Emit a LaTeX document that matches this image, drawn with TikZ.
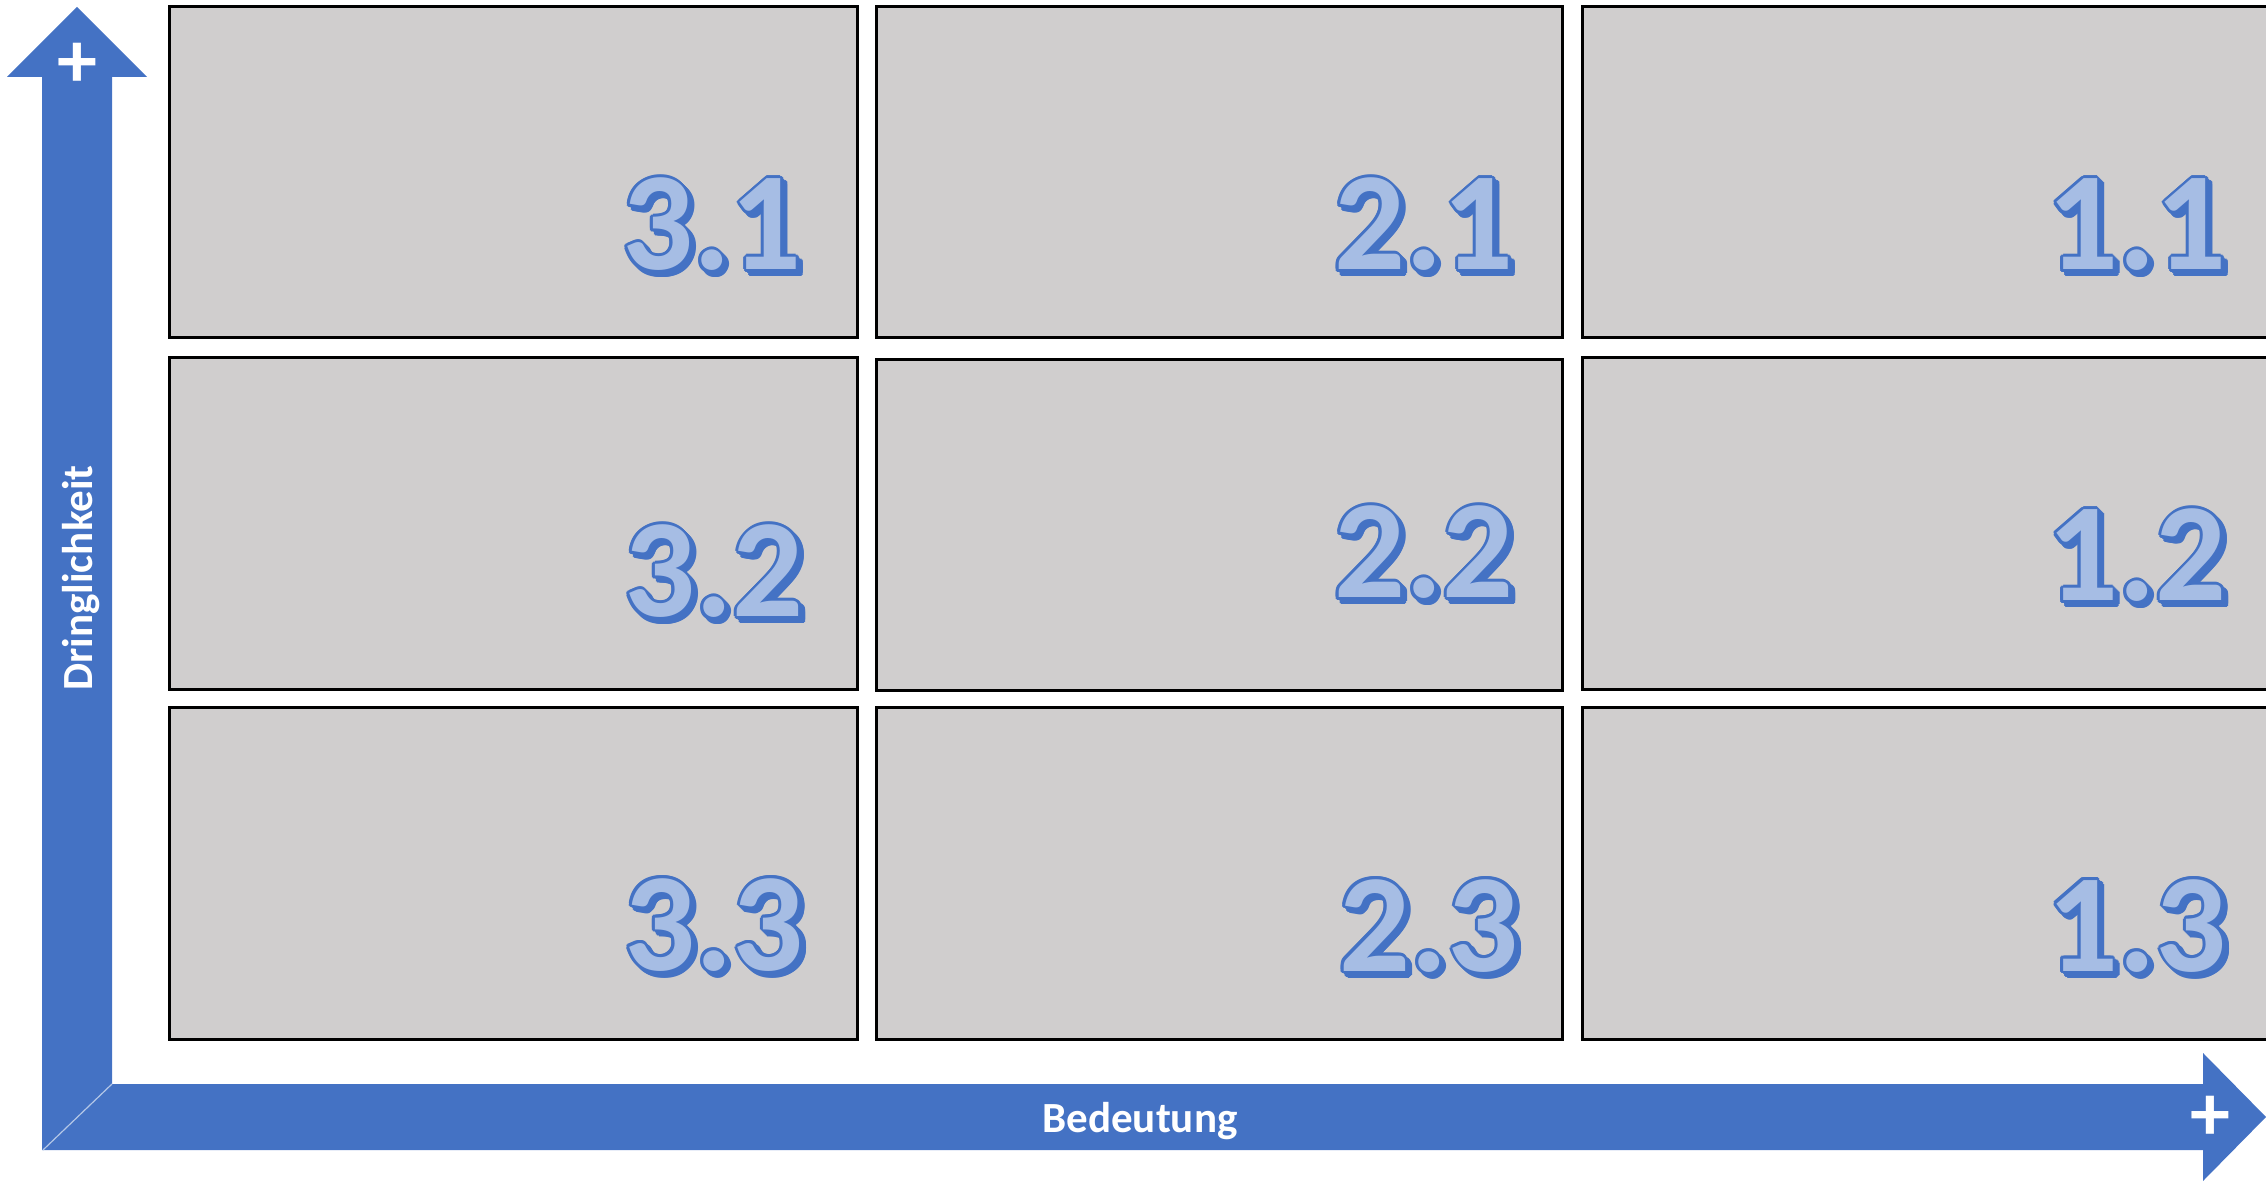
\documentclass[tikz,border=0pt]{standalone}
\usepackage{fontspec}
\setmainfont{Carlito}
\usetikzlibrary{calc}
\definecolor{myblue}{HTML}{4472C4}
\definecolor{boxgray}{HTML}{D0CECE}
\definecolor{numfill}{HTML}{A6BDE4}
\newcommand\numlabel[4]{%
  \foreach \a in {0,30,...,330}{%
    \node[numtxt,text=myblue,shift={(\a:1.5pt)},xshift=2pt,yshift=-2pt] (#1s\a) at (#2,#3) {#4};
    \node[numtxt,text=myblue,shift={(\a:1.5pt)}] (#1o\a) at (#2,#3) {#4};
  }%
  \node[numtxt,text=numfill] (#1) at (#2,#3) {#4};
}
\begin{document}
\begin{tikzpicture}[x=0.5pt,y=-0.5pt,
  cell/.style={draw=black, fill=boxgray, line width=1.5pt, inner sep=0pt, outer sep=0pt},
  numtxt/.style={font=\fontsize{70}{70}\selectfont\bfseries, inner sep=0pt, anchor=base},
  axislabel/.style={font=\fontsize{21.5}{21.5}\selectfont\bfseries, text=white, inner sep=0pt, anchor=base},
  plussign/.style={font=\fontsize{40}{40}\selectfont\bfseries, text=white, inner sep=0pt}]
\useasboundingbox (0,0) rectangle (2266,1181);
% axes arrow (L-shape)
\fill[myblue] (77,7) -- (147,77) -- (112,77) -- (112,1084) -- (2203,1084) -- (2203,1053)
  -- (2266,1117) -- (2203,1181) -- (2203,1150) -- (42,1150) -- (42,77) -- (7,77) -- cycle;
\draw[white!60!myblue, line width=0.6pt] (43,1150) -- (112,1084);
% cells
\node[cell, minimum width=344pt, minimum height=165.5pt] (c31) at (513,172.5) {};
\node[cell, minimum width=343pt, minimum height=165.5pt] (c21) at (1219,172.5) {};
\node[cell, minimum width=345pt, minimum height=165.5pt] (c11) at (1927,172.5) {};
\node[cell, minimum width=344pt, minimum height=166pt] (c32) at (513,524) {};
\node[cell, minimum width=343pt, minimum height=165.5pt] (c22) at (1219,525.5) {};
\node[cell, minimum width=345pt, minimum height=166pt] (c12) at (1927,524) {};
\node[cell, minimum width=344pt, minimum height=165.5pt] (c33) at (513,873.5) {};
\node[cell, minimum width=343pt, minimum height=165.5pt] (c23) at (1219,873.5) {};
\node[cell, minimum width=345pt, minimum height=165.5pt] (c13) at (1927,873.5) {};
% numbers
\numlabel{n31}{712}{270}{3.1}
\numlabel{n21}{1424}{270}{2.1}
\numlabel{n11}{2137}{270}{1.1}
\numlabel{n32}{714}{617}{3.2}
\numlabel{n22}{1424}{598}{2.2}
\numlabel{n12}{2137}{601}{1.2}
\numlabel{n33}{714}{970}{3.3}
\numlabel{n23}{1429}{971}{2.3}
\numlabel{n13}{2137}{971}{1.3}
% axis labels
\node[axislabel, rotate=90] (ylab) at (92,578) {Dringlichkeit};
\node[axislabel] (xlab) at (1140,1132) {Bedeutung};
\node[plussign] (plusv) at (77,65) {+};
\node[plussign] (plush) at (2210,1118) {+};
\end{tikzpicture}
\end{document}
